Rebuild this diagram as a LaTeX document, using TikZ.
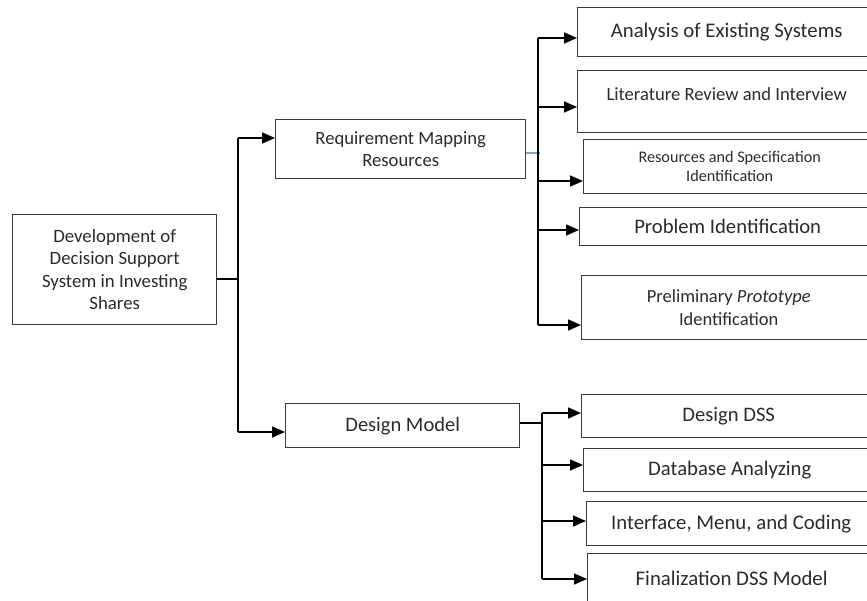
\documentclass[tikz,border=0pt]{standalone}
\usepackage{fontspec}
\setmainfont{Carlito}
\usetikzlibrary{arrows.meta}
\definecolor{txt}{HTML}{2B2B2B}
\definecolor{bord}{HTML}{3A3A3A}
\definecolor{stub}{HTML}{7FA6D0}
\tikzset{
  box/.style={draw=bord, line width=1.4pt, rectangle, anchor=north west, inner sep=0pt, align=center, text=txt},
  conn/.style={line width=1.6pt, draw=black},
  arr/.style={conn, -{Triangle[length=13pt,width=11pt]}},
}
\begin{document}
\begin{tikzpicture}[x=1pt,y=-1pt]
\useasboundingbox (0,0) rectangle (867,600);
% root
\node[box, minimum width=204pt, minimum height=110pt, font=\fontsize{18.8}{22.5}\selectfont] (root) at (12,214) {Development of\\Decision Support\\System in Investing\\Shares};
% level 1
\node[box, minimum width=250pt, minimum height=59pt, font=\fontsize{18.7}{22}\selectfont] (req) at (275,119) {Requirement Mapping\\Resources};
\node[box, minimum width=234pt, minimum height=44pt, font=\fontsize{20.5}{24}\selectfont] (dm) at (285,403) {Design Model};
% level 2 top
\node[box, minimum width=298pt, minimum height=49pt, font=\fontsize{20.8}{24}\selectfont] (a1) at (577,7) {Analysis of Existing Systems};
\node[box, minimum width=298pt, minimum height=62pt, font=\fontsize{18.6}{16}\selectfont] (a2) at (577,70) {Literature Review and Interview\\\mbox{}};
\node[box, minimum width=292pt, minimum height=54pt, font=\fontsize{16.2}{19}\selectfont] (a3) at (583,139) {Resources and Specification\\Identification};
\node[box, minimum width=296pt, minimum height=38pt, font=\fontsize{20.7}{24}\selectfont] (a4) at (579,207) {Problem Identification};
\node[box, minimum width=294pt, minimum height=64pt, font=\fontsize{18.5}{23}\selectfont] (a5) at (581,275) {Preliminary \textit{Prototype}\\Identification};
% level 2 bottom
\node[box, minimum width=294pt, minimum height=43pt, font=\fontsize{20.6}{24}\selectfont] (b1) at (581,394) {Design DSS};
\node[box, minimum width=292pt, minimum height=43pt, font=\fontsize{20.7}{24}\selectfont] (b2) at (583,448) {Database Analyzing};
\node[box, minimum width=289pt, minimum height=44pt, font=\fontsize{20.8}{24}\selectfont] (b3) at (586,501) {Interface, Menu, and Coding};
\node[box, minimum width=288pt, minimum height=50pt, font=\fontsize{20.8}{24}\selectfont] (b4) at (587,553) {Finalization DSS Model};
% trunk coordinates
\coordinate (r0) at (238,279);
\coordinate (t1a) at (238,138);
\coordinate (t1b) at (238,432);
\coordinate (q0) at (540,153);
\coordinate (p1) at (538,38);
\coordinate (p2) at (538,107);
\coordinate (p3) at (538,181);
\coordinate (p4) at (538,230);
\coordinate (p5) at (538,325);
\coordinate (d0) at (542,423);
\coordinate (s1) at (542,413);
\coordinate (s2) at (542,465);
\coordinate (s3) at (542,521);
\coordinate (s4) at (542,579);
% connectors
\draw[conn] (root.east |- r0) -- (r0);
\draw[conn] (t1a) -- (t1b);
\draw[arr] (t1a) -- (req.west |- t1a);
\draw[arr] (t1b) -- (dm.west |- t1b);
\draw[line width=1.3pt, draw=stub] (req.east |- q0) -- (q0);
\draw[conn] (p1) -- (p5);
\draw[arr] (p1) -- (a1.west |- p1);
\draw[arr] (p2) -- (a2.west |- p2);
\draw[arr] (p3) -- (a3.west |- p3);
\draw[arr] (p4) -- (a4.west |- p4);
\draw[arr] (p5) -- (a5.west |- p5);
\draw[conn] (dm.east |- d0) -- (d0);
\draw[conn] (s1) -- (s4);
\draw[arr] (s1) -- (b1.west |- s1);
\draw[arr] (s2) -- (b2.west |- s2);
\draw[arr] (s3) -- (b3.west |- s3);
\draw[arr] (s4) -- (b4.west |- s4);
\end{tikzpicture}
\end{document}
